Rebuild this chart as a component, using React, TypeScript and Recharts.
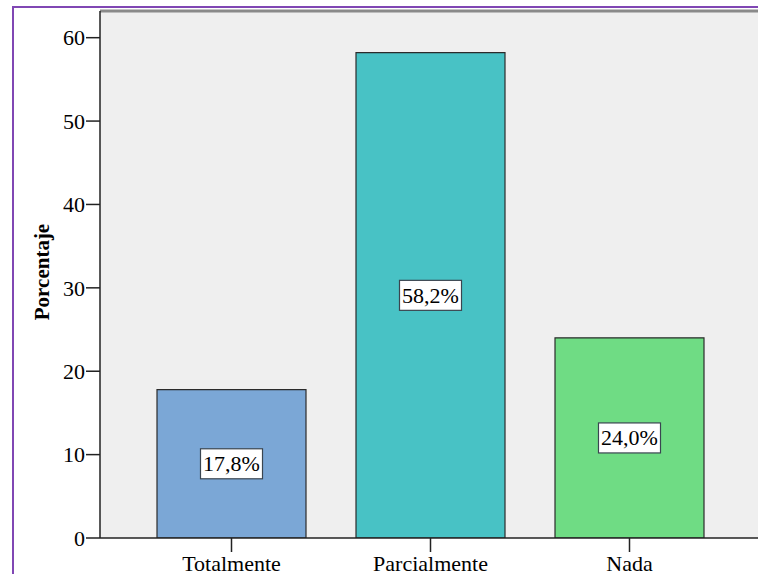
import React from "react";
import { BarChart, Bar, XAxis, YAxis, CartesianGrid, Cell, LabelList, ReferenceLine } from "recharts";

// Categories and percentages
const categories = ["Totalmente", "Parcialmente", "Nada"];
const percentages = [17.8, 58.2, 24.0];
const barColors = ["#7BA7D6", "#48C2C5", "#6FDC84"];
const yTicks = [0, 10, 20, 30, 40, 50, 60];
const yMax = 63.2;

const data = categories.map((name, i) => ({ name, value: percentages[i] }));

const FONT = "Liberation Serif, DejaVu Serif, serif";
const serif = { fontFamily: FONT };

const fmt = (v: number) => v.toFixed(1).replace(".", ",") + "%";

// White boxed percentage label centred in each bar
const BoxLabel = (props: any) => {
  const { x, y, width, height, value } = props;
  const cx = x + width / 2;
  const cy = y + height / 2;
  const w = 62;
  const h = 30;
  return (
    <g>
      <rect x={cx - w / 2} y={cy - h / 2} width={w} height={h} fill="#FFFFFF" stroke="#3A4550" strokeWidth={1.2} />
      <text
        x={cx}
        y={cy}
        textAnchor="middle"
        dominantBaseline="central"
        style={{ ...serif, fontSize: 22 }}
        fill="#000"
      >
        {fmt(value)}
      </text>
    </g>
  );
};

const AxisTitle = (props: any) => {
  const vb = props.viewBox;
  const x = vb.x + 42;
  const y = 272;
  return (
    <text
      x={x}
      y={y}
      transform={`rotate(-90 ${x} ${y})`}
      textAnchor="middle"
      dominantBaseline="central"
      style={{ ...serif, fontWeight: "bold", fontSize: 21 }}
      fill="#000"
    >
      Porcentaje
    </text>
  );
};

export default function App() {
  return (
    <div
      style={{
        position: "absolute",
        left: 0,
        top: 0,
        width: 758,
        height: 574,
        overflow: "hidden",
        background: "#fff",
        ...serif,
      }}
    >
      <div
        style={{
          position: "absolute",
          left: 12,
          top: 6,
          width: 800,
          height: 620,
          border: "2px solid #8047B4",
          boxSizing: "border-box",
        }}
      />
      <div style={{ position: "absolute", left: 0, top: 0 }}>
        <BarChart
          width={800}
          height={600}
          data={data}
          margin={{ top: 11, right: 39, bottom: 22, left: 0 }}
          barCategoryGap={25}
          style={serif}
        >
          <CartesianGrid horizontal={false} vertical={false} fill="#EFEFEF" />
          <XAxis
            dataKey="name"
            height={40}
            padding={{ left: 32, right: 32 }}
            tickSize={14}
            tickMargin={3}
            axisLine={{ stroke: "#222", strokeWidth: 1.5 }}
            tickLine={{ stroke: "#222", strokeWidth: 1.5 }}
            tick={{ style: serif, fontSize: 22, fill: "#000" }}
            interval={0}
          />
          <YAxis
            width={100}
            domain={[0, yMax]}
            ticks={yTicks}
            allowDataOverflow
            tickSize={14}
            tickMargin={1}
            axisLine={{ stroke: "#222", strokeWidth: 1.5 }}
            tickLine={{ stroke: "#222", strokeWidth: 1.5 }}
            tick={{ style: serif, fontSize: 22, fill: "#000" }}
            label={<AxisTitle />}
          />
          <ReferenceLine y={yMax} stroke="#8A8A8A" strokeWidth={3} ifOverflow="visible" />
          <Bar dataKey="value" isAnimationActive={false} stroke="#2B2B2B" strokeWidth={1.2}>
            {data.map((d, i) => (
              <Cell key={d.name} fill={barColors[i]} />
            ))}
            <LabelList dataKey="value" content={<BoxLabel />} />
          </Bar>
        </BarChart>
      </div>
    </div>
  );
}
